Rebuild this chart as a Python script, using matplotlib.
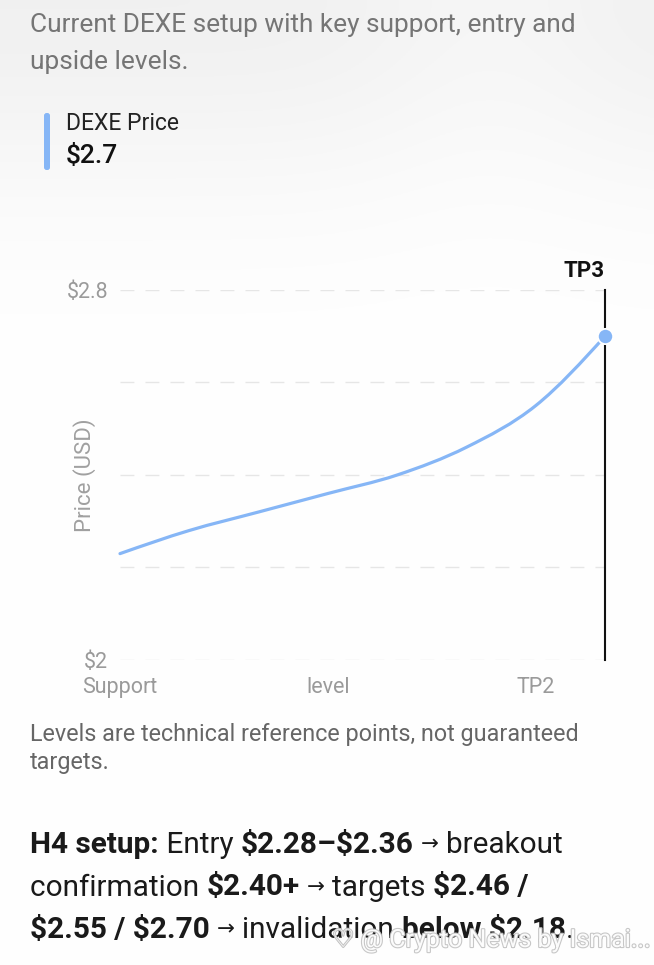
import numpy as np
import matplotlib
matplotlib.use("Agg")
import matplotlib.pyplot as plt
from matplotlib.path import Path
from matplotlib.patches import PathPatch, FancyBboxPatch
import matplotlib.patheffects as pe

# ---------------- data ----------------
categories = ["Support", "Entry low", "Entry mid", "level", "Breakout", "TP1", "TP2", "TP3"]
prices = [2.23, 2.28, 2.32, 2.36, 2.40, 2.46, 2.55, 2.70]
shown_ticks = ["Support", "level", "TP2"]
y_ticks = [2.0, 2.2, 2.4, 2.6, 2.8]
y_tick_labels = {2.0: "$2", 2.8: "$2.8"}
active = "TP3"

W, H = 654, 965
fig = plt.figure(figsize=(W / 100, H / 100), dpi=100)
FONT = ["Roboto", "DejaVu Sans"]
plt.rcParams["font.family"] = FONT
LINE = "#86b6f6"

# background gradient
bg = fig.add_axes([0, 0, 1, 1], zorder=-10)
yy = np.linspace(0, 1, 400)[:, None]
xx = np.linspace(0, 1, 300)[None, :]
g = 1 - 0.055 * np.exp(-(yy / 0.2) ** 2) * (1 - 0.35 * np.exp(-((xx - 0.75) / 0.2) ** 2))
bg.imshow(np.dstack([g, g, g]), extent=[0, 1, 0, 1], origin="upper", aspect="auto")
bg.set_xlim(0, 1); bg.set_ylim(0, 1); bg.axis("off")

def fx(px):
    return px / W

def fy(py):
    return 1 - py / H

def ftext(xp, yp, s, **kw):
    return fig.text(fx(xp), fy(yp), s, parse_math=False, **kw)

# subtitle
ftext(30, 25, "Current DEXE setup with key support, entry and", fontsize=18.9,
      color="#757575", va="center", ha="left")
ftext(30, 62, "upside levels.", fontsize=18.9, color="#757575", va="center", ha="left")

# legend
fig.patches.append(FancyBboxPatch((fx(44), fy(170)), fx(6), (170 - 113) / H,
                                  boxstyle="round,pad=0,rounding_size=0.004",
                                  transform=fig.transFigure, facecolor=LINE,
                                  edgecolor="none", mutation_aspect=W / H))
ftext(66, 124, "DEXE Price", fontsize=16.5, color="#222222", va="center", ha="left")
ftext(66, 156, "$2.7", fontsize=19, color="#111111", va="center", ha="left",
      fontweight="medium")

# ---------------- chart ----------------
ax = fig.add_axes([fx(120), fy(660), (605 - 120) / W, (660 - 290) / H])
ax.set_facecolor("none")
x = np.arange(len(categories))
ax.set_xlim(0, len(categories) - 1)
ax.set_ylim(2.0, 2.8)
for s in ax.spines.values():
    s.set_visible(False)

for t in y_ticks:
    ax.axhline(t, color="#e6e6e6", lw=1.0, ls=(0, (10, 8)), zorder=1)

ax.set_yticks(y_ticks)
ax.set_yticklabels([y_tick_labels.get(t, "") for t in y_ticks])
ax.tick_params(axis="y", length=0, pad=8.5, labelsize=15.5, labelcolor="#9a9a9a")
tick_idx = [categories.index(c) for c in shown_ticks]
ax.set_xticks(tick_idx)
ax.set_xticklabels(shown_ticks)
ax.tick_params(axis="x", length=0, pad=12, labelsize=15.5, labelcolor="#9a9a9a")
ax.set_ylabel("Price (USD)", fontsize=16, color="#a0a0a0")
ax.yaxis.set_label_coords(-0.05, 0.5)

# monotone-x cubic bezier (like the web chart's "monotone" curve)
xs = x.astype(float)
ys = np.array(prices, dtype=float)
n = len(xs)
h = np.diff(xs)
d = np.diff(ys) / h
m = np.zeros(n)
for i in range(1, n - 1):
    if d[i - 1] * d[i] > 0:
        p = (d[i - 1] * h[i] + d[i] * h[i - 1]) / (h[i - 1] + h[i])
        m[i] = (np.sign(d[i - 1]) + np.sign(d[i])) * min(abs(d[i - 1]), abs(d[i]), 0.5 * abs(p))
m[0] = (3 * d[0] - m[1]) / 2
m[-1] = (3 * d[-1] - m[-2]) / 2
verts = [(xs[0], ys[0])]
codes = [Path.MOVETO]
for i in range(n - 1):
    dx = h[i] / 3
    verts += [(xs[i] + dx, ys[i] + m[i] * dx), (xs[i + 1] - dx, ys[i + 1] - m[i + 1] * dx),
              (xs[i + 1], ys[i + 1])]
    codes += [Path.CURVE4] * 3
ax.add_patch(PathPatch(Path(verts, codes), facecolor="none", edgecolor=LINE, lw=2.3,
                       zorder=3, clip_on=False, capstyle="round"))

# active cursor
ai = categories.index(active)
ax.plot([ai, ai], [2.0, 2.8], color="#111111", lw=1.5, zorder=4, clip_on=False)
ax.plot([ai], [prices[ai]], "o", ms=11, color=LINE, mec="white", mew=1.3, zorder=5,
        clip_on=False)
ax.text(ai, 2.8 + 0.017, active, ha="right", va="bottom", fontsize=16, fontweight="bold",
        color="#111111", transform=ax.transData)

# ---------------- notes ----------------
ftext(30, 734, "Levels are technical reference points, not guaranteed", fontsize=16.8,
      color="#666666", va="center", ha="left")
ftext(30, 763, "targets.", fontsize=16.8, color="#666666", va="center", ha="left")

renderer = fig.canvas.get_renderer()

def width_of(txt, **kw):
    a = fig.text(0, 0, "|" + txt + "|", parse_math=False, **kw)
    b = fig.text(0, 0, "||", parse_math=False, **kw)
    w = a.get_window_extent(renderer).width - b.get_window_extent(renderer).width
    a.remove(); b.remove()
    return w

def draw_runs(runs, x0, ypx, size):
    xp = x0
    for txt, bold in runs:
        if txt.strip() == "→":
            pieces = [(" ", size), ("→", size * 0.72), (" ", size)]
        else:
            pieces = [(txt, size)]
        for ptxt, psize in pieces:
            kw = dict(fontsize=psize, fontweight="bold" if bold else "normal")
            if ptxt.strip():
                ftext(xp, ypx, ptxt, va="center", ha="left", color="#1a1a1a", **kw)
            xp += width_of(ptxt, **kw)

lines = [
    [("H4 setup:", True), (" Entry ", False), ("$2.28–$2.36", True), (" → ", False), ("breakout", False)],
    [("confirmation ", False), ("$2.40+", True), (" → ", False), ("targets ", False), ("$2.46 /", True)],
    [("$2.55 / $2.70", True), (" → ", False), ("invalidation ", False), ("below $2.18", True), (".", False)],
]
for k, ln in enumerate(lines):
    draw_runs(ln, 30, 845 + 42.5 * k, 21.4)

# watermark
ftext(332, 940, "♡ @ Crypto News by Ismai...", fontsize=18, color="white", alpha=0.95,
      va="center", ha="left",
      path_effects=[pe.withStroke(linewidth=1.6, foreground="#c4c4c4")])

fig.savefig("out.png", dpi=100)
